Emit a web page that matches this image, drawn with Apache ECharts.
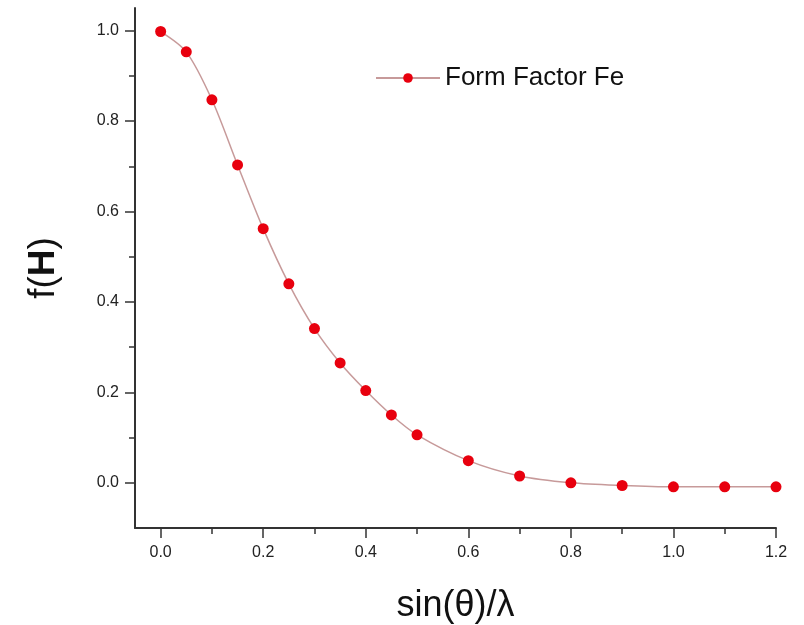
<!DOCTYPE html>
<html>
<head>
<meta charset="utf-8">
<script src="https://cdn.jsdelivr.net/npm/echarts@6/dist/echarts.min.js"></script>
<style>html,body{margin:0;padding:0;background:#fff;}#c{width:804px;height:625px;}</style>
</head>
<body>
<div id="c"></div>
<script>
const xValues = [0.0, 0.05, 0.1, 0.15, 0.2, 0.25, 0.3, 0.35, 0.4, 0.45, 0.5, 0.6, 0.7, 0.8, 0.9, 1.0, 1.1, 1.2];
const formFactorFe = [0.998, 0.953, 0.847, 0.703, 0.562, 0.440, 0.341, 0.265, 0.204, 0.150, 0.106, 0.049, 0.015, 0.0, -0.006, -0.009, -0.009, -0.009];
const xMajorTicks = [0.0, 0.2, 0.4, 0.6, 0.8, 1.0, 1.2];
const xMinorTicks = [0.1, 0.3, 0.5, 0.7, 0.9, 1.1];
const yMajorTicks = [0.0, 0.2, 0.4, 0.6, 0.8, 1.0];
const yMinorTicks = [0.1, 0.3, 0.5, 0.7, 0.9];
const seriesName = 'Form Factor Fe';

const font = 'Liberation Sans, Arial, sans-serif';
const axisColor = '#333';
const chart = echarts.init(document.getElementById('c'), null, {renderer: 'canvas'});

const grid = {left: 135, right: 28, top: 8, bottom: 97, containLabel: false, outerBoundsMode: 'none'};
const xBase = {type: 'value', min: -0.05, max: 1.2, splitLine: {show: false}, gridIndex: 0};
const yBase = {type: 'value', min: -0.1, max: 1.05, splitLine: {show: false}, gridIndex: 0};

chart.setOption({
  backgroundColor: '#fff',
  animation: false,
  grid: grid,
  legend: {
    data: [seriesName],
    left: 370, top: 60,
    itemWidth: 64, itemHeight: 12, itemGap: 8,
    textStyle: {fontFamily: font, fontSize: 26, color: '#111'}
  },
  xAxis: [
    Object.assign({}, xBase, {
      name: 'sin(θ)/λ',
      nameLocation: 'middle',
      nameGap: 60,
      nameTextStyle: {fontFamily: font, fontSize: 36, color: '#111', verticalAlign: 'top'},
      axisLine: {show: true, onZero: false, lineStyle: {color: axisColor, width: 2}},
      axisTick: {show: true, inside: false, length: 10, customValues: xMajorTicks, lineStyle: {color: axisColor, width: 1.5}},
      axisLabel: {show: true, customValues: xMajorTicks, margin: 17, fontFamily: font, fontSize: 16, color: '#222',
        formatter: v => v.toFixed(1)}
    }),
    Object.assign({}, xBase, {
      axisLine: {show: false, onZero: false},
      axisTick: {show: true, inside: false, length: 6, customValues: xMinorTicks, lineStyle: {color: axisColor, width: 1.5}},
      axisLabel: {show: false},
      position: 'bottom'
    })
  ],
  yAxis: [
    Object.assign({}, yBase, {
      name: '{n|f(}{b|H}{n|)}',
      nameLocation: 'middle',
      nameGap: 73,
      nameRotate: 90,
      nameTextStyle: {
        fontFamily: font, fontSize: 37, color: '#111',
        rich: {
          n: {fontFamily: font, fontSize: 37, color: '#111'},
          b: {fontFamily: font, fontSize: 37, color: '#111', fontWeight: 'bold'}
        }
      },
      axisLine: {show: true, onZero: false, lineStyle: {color: axisColor, width: 2}},
      axisTick: {show: true, inside: false, length: 10, customValues: yMajorTicks, lineStyle: {color: axisColor, width: 1.5}},
      axisLabel: {show: true, customValues: yMajorTicks, margin: 16, fontFamily: font, fontSize: 16, color: '#222',
        formatter: v => v.toFixed(1)}
    }),
    Object.assign({}, yBase, {
      axisLine: {show: false, onZero: false},
      axisTick: {show: true, inside: false, length: 6, customValues: yMinorTicks, lineStyle: {color: axisColor, width: 1.5}},
      axisLabel: {show: false},
      position: 'left'
    })
  ],
  series: [{
    name: seriesName,
    type: 'line',
    xAxisIndex: 0,
    yAxisIndex: 0,
    data: xValues.map((x, i) => [x, formFactorFe[i]]),
    smooth: 0.3,
    symbol: 'circle',
    symbolSize: 11,
    showSymbol: true,
    clip: false,
    lineStyle: {color: '#c79a9a', width: 1.5},
    itemStyle: {color: '#e8000e', borderColor: '#e8000e', borderWidth: 0}
  }]
});
</script>
</body>
</html>
